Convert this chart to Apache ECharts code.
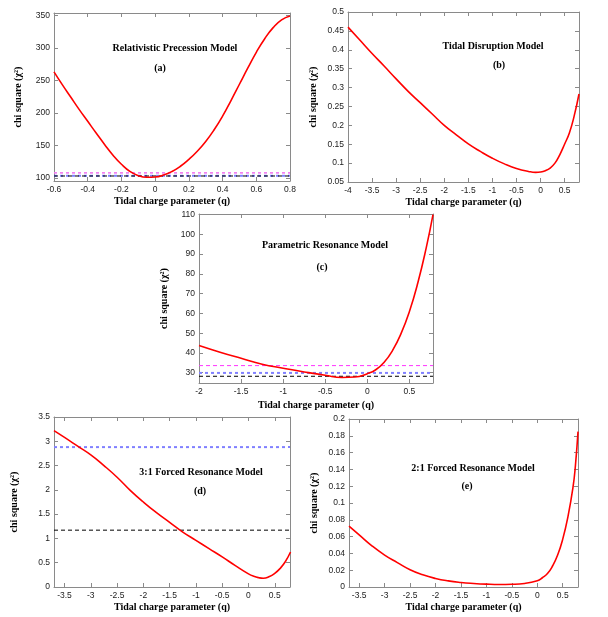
<!DOCTYPE html>
<html><head><meta charset="utf-8">
<script src="https://cdn.jsdelivr.net/npm/echarts@6/dist/echarts.min.js"></script>
<style>html,body{margin:0;padding:0;background:#fff}#c{width:608px;height:617px}</style>
</head><body><div id="c"></div>
<script>
// ---- data ----
const qA   = [-0.6,-0.55,-0.5,-0.45,-0.4,-0.35,-0.3,-0.25,-0.2,-0.15,-0.1,-0.05,0,0.05,0.1,0.15,0.2,0.25,0.3,0.35,0.4,0.45,0.5,0.55,0.6,0.65,0.7,0.75,0.8];
const chiA = [263,243,224,205,187,169,151.5,135,121,110,103.5,101,101.5,104.5,110,118,128.5,141,156,174,195,219,244,269,293,314,331,343,349];
const refA = [107.8,103.3,103.0];  // magenta, blue, black

const qB   = [-4,-3.75,-3.5,-3.25,-3,-2.75,-2.5,-2.25,-2,-1.75,-1.5,-1.25,-1,-0.75,-0.5,-0.25,-0.1,0,0.1,0.2,0.3,0.4,0.5,0.6,0.7,0.8];
const chiB = [0.46,0.425,0.39,0.357,0.323,0.29,0.26,0.23,0.2,0.175,0.151,0.131,0.113,0.098,0.086,0.078,0.0755,0.0765,0.08,0.087,0.1,0.122,0.15,0.18,0.225,0.283];

const qC   = [-2,-1.75,-1.5,-1.25,-1,-0.75,-0.5,-0.3,-0.15,0,0.1,0.2,0.3,0.4,0.5,0.6,0.7,0.78];
const chiC = [43.8,40.4,37.3,34.3,32.3,30.4,28.7,27.6,27.8,29.5,31.5,35.3,41.3,49.8,61,75.5,93.3,110];
const refC = [33.6,29.9,28.2];     // magenta, blue, black

const qD   = [-3.7,-3.5,-3.25,-3,-2.75,-2.5,-2.25,-2,-1.75,-1.5,-1.25,-1,-0.75,-0.5,-0.25,0,0.1,0.2,0.28,0.4,0.5,0.6,0.7,0.8];
const chiD = [3.22,3.08,2.9,2.72,2.5,2.26,1.99,1.75,1.53,1.33,1.13,0.96,0.79,0.62,0.44,0.27,0.22,0.19,0.18,0.215,0.28,0.38,0.52,0.72];
const refD = [2.88,1.17];          // blue, black

const qE   = [-3.7,-3.5,-3.25,-3,-2.75,-2.5,-2.25,-2,-1.75,-1.5,-1.25,-1,-0.75,-0.5,-0.25,0,0.1,0.2,0.3,0.4,0.5,0.6,0.7,0.75,0.8];
const chiE = [0.0725,0.062,0.049,0.038,0.029,0.0205,0.0145,0.0102,0.0073,0.0054,0.0042,0.0034,0.003,0.0032,0.0042,0.0075,0.011,0.016,0.025,0.038,0.057,0.083,0.118,0.145,0.185];

// tick labels
const xTicksA = [-0.6,-0.4,-0.2,0,0.2,0.4,0.6,0.8];
const yTicksA = [100,150,200,250,300,350];
const xTicksB = [-4,-3.5,-3,-2.5,-2,-1.5,-1,-0.5,0,0.5];
const yTicksB = [0.05,0.1,0.15,0.2,0.25,0.3,0.35,0.4,0.45,0.5];
const xTicksC = [-2,-1.5,-1,-0.5,0,0.5];
const yTicksC = [30,40,50,60,70,80,90,100,110];
const xTicksD = [-3.5,-3,-2.5,-2,-1.5,-1,-0.5,0,0.5];
const yTicksD = [0,0.5,1,1.5,2,2.5,3,3.5];
const xTicksE = [-3.5,-3,-2.5,-2,-1.5,-1,-0.5,0,0.5];
const yTicksE = [0,0.02,0.04,0.06,0.08,0.1,0.12,0.14,0.16,0.18,0.2];

const titles = ['Relativistic Precession Model','Tidal Disruption Model','Parametric Resonance Model','3:1 Forced Resonance Model','2:1 Forced Resonance Model'];
const tags = ['(a)','(b)','(c)','(d)','(e)'];
const xName = 'Tidal charge parameter (q)';
const yName = 'chi square (χ²)';

// ---- layout / styles ----
const SERIF = '"Liberation Serif","Times New Roman",serif';
const SANS = '"Liberation Sans",Arial,sans-serif';
const MAG = {color:'#f07af0', width:1.6, type:[3,3]};
const MAGC = {color:'#ff33ff', width:1, type:[4,3]};
const BLU = {color:'#8080ff', width:2, type:[3,3]};
const BLK = {color:'#000000', width:1, type:[4,3]};

const panels = [
  {q:qA, chi:chiA, xr:[-0.6,0.8], yr:[95.3,353.5], xt:xTicksA, yt:yTicksA, g:[54,13,236,168], xg:15, yg:31,
   refs:[[refA[0],MAG],[refA[1],BLU],[refA[2],BLK]], tp:[175,48], lp:[160,68]},
  {q:qB, chi:chiB, xr:[-4,0.8], yr:[0.05,0.5], xt:xTicksB, yt:yTicksB, g:[348,12,231,170], xg:15, yg:30,
   refs:[], tp:[493,46], lp:[499,65]},
  {q:qC, chi:chiC, xr:[-2,0.78], yr:[24.8,110.3], xt:xTicksC, yt:yTicksC, g:[199,214,234,169], xg:17, yg:30,
   refs:[[refC[0],MAGC],[refC[1],BLU],[refC[2],BLK]], tp:[325,245], lp:[322,267]},
  {q:qD, chi:chiD, xr:[-3.7,0.79], yr:[0,3.5], xt:xTicksD, yt:yTicksD, g:[54,417,236,170], xg:15, yg:35,
   refs:[[refD[0],BLU],[refD[1],BLK]], tp:[201,472], lp:[200,491]},
  {q:qE, chi:chiE, xr:[-3.7,0.8], yr:[0,0.2], xt:xTicksE, yt:yTicksE, g:[349,419,229,168], xg:15, yg:30,
   refs:[], tp:[473,468], lp:[467,486]}
];

const grids=[], xAxes=[], yAxes=[], series=[], graphics=[];
const lineC = '#8a8a8a';
panels.forEach((p,i)=>{
  grids.push({left:p.g[0], top:p.g[1], width:p.g[2], height:p.g[3], containLabel:false});
  const axLine = {show:true, onZero:false, lineStyle:{color:lineC, width:1}};
  const tick = (vals)=>({show:true, inside:true, length:4, customValues:vals, lineStyle:{color:lineC, width:1}});
  const lab = {fontSize:8.5, color:'#222', fontFamily:SANS};
  const nameStyle = {fontFamily:SERIF, fontWeight:'bold', fontSize:10, color:'#000'};
  xAxes.push({type:'value', gridIndex:i, min:p.xr[0], max:p.xr[1], position:'bottom',
    axisLine:axLine, axisTick:tick(p.xt), splitLine:{show:false},
    axisLabel:Object.assign({customValues:p.xt, margin:4, showMinLabel:true, showMaxLabel:true}, lab),
    name:xName, nameLocation:'middle', nameGap:p.xg, nameTextStyle:nameStyle});
  xAxes.push({type:'value', gridIndex:i, min:p.xr[0], max:p.xr[1], position:'top',
    axisLine:axLine, axisTick:tick(p.xt), axisLabel:{show:false}, splitLine:{show:false}});
  yAxes.push({type:'value', gridIndex:i, min:p.yr[0], max:p.yr[1], position:'left',
    axisLine:axLine, axisTick:tick(p.yt), splitLine:{show:false},
    axisLabel:Object.assign({customValues:p.yt, margin:4, showMinLabel:true, showMaxLabel:true}, lab),
    name:yName, nameLocation:'middle', nameGap:p.yg, nameRotate:90, nameTextStyle:nameStyle});
  yAxes.push({type:'value', gridIndex:i, min:p.yr[0], max:p.yr[1], position:'right',
    axisLine:axLine, axisTick:tick(p.yt), axisLabel:{show:false}, splitLine:{show:false}});
  p.refs.forEach(([v,st])=>{
    series.push({type:'line', xAxisIndex:2*i, yAxisIndex:2*i, data:[[p.xr[0],v],[p.xr[1],v]],
      showSymbol:false, symbol:'none', lineStyle:st, silent:true, z:2});
  });
  series.push({type:'line', xAxisIndex:2*i, yAxisIndex:2*i, data:p.q.map((x,k)=>[x,p.chi[k]]),
    showSymbol:false, symbol:'none', smooth:0.5, lineStyle:{color:'#ff0000', width:1.6}, silent:true, z:3, clip:true});
  graphics.push({type:'text', x:p.tp[0], y:p.tp[1], style:{text:titles[i], fontFamily:SERIF, fontWeight:'bold', fontSize:10,
    fill:'#000', align:'center', verticalAlign:'middle', textAlign:'center', textVerticalAlign:'middle'}});
  graphics.push({type:'text', x:p.lp[0], y:p.lp[1], style:{text:tags[i], fontFamily:SERIF, fontWeight:'bold', fontSize:10,
    fill:'#000', align:'center', verticalAlign:'middle', textAlign:'center', textVerticalAlign:'middle'}});
});

const chart = echarts.init(document.getElementById('c'), null, {renderer:'canvas'});
chart.setOption({animation:false, backgroundColor:'#fff', grid:grids, xAxis:xAxes, yAxis:yAxes, series, graphic:graphics});
</script>
</body></html>
